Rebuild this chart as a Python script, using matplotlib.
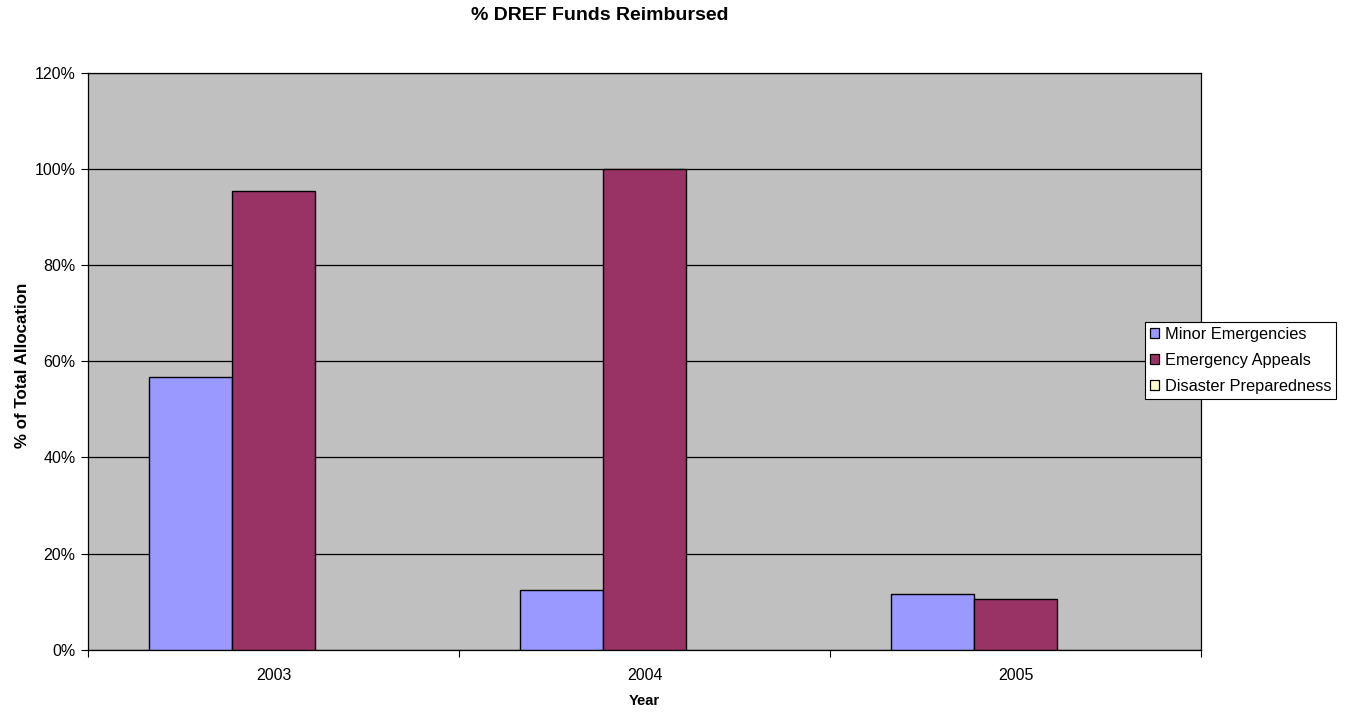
import matplotlib
matplotlib.use("Agg")
import matplotlib.pyplot as plt
import numpy as np
from matplotlib.patches import Patch

plt.rcParams['font.family'] = ['Liberation Sans', 'DejaVu Sans']

years = ["2003", "2004", "2005"]
series_names = ["Minor Emergencies", "Emergency Appeals", "Disaster Preparedness"]
minor = [56.7, 12.4, 11.6]
appeals = [95.4, 100.0, 10.5]
preparedness = [0.0, 0.0, 0.0]
colors = ["#9999FF", "#993366", "#FFFFCC"]
yticks = [0, 20, 40, 60, 80, 100, 120]

fig = plt.figure(figsize=(13.52, 7.14), dpi=100)
ax = fig.add_axes([88/1352, 1-649.7/714, (1201-88)/1352, (649.7-73)/714])
ax.set_facecolor("#C0C0C0")

x = np.arange(len(years))
w = 0.224
for i, (vals, name, c) in enumerate(zip([minor, appeals, preparedness], series_names, colors)):
    lws = [1.0 if v > 0 else 0.0 for v in vals]
    ax.bar(x + (i - 1) * w, vals, width=w, color=c, edgecolor="black", linewidth=lws,
           label=name, zorder=3)

ax.set_xlim(-0.5, len(years) - 0.5)
ax.set_ylim(0, 120)
ax.set_yticks(yticks)
ax.set_yticklabels([f"{v}%" for v in yticks])
ax.yaxis.grid(True, color="black", linewidth=0.9, zorder=1)
ax.set_axisbelow(True)

ax.set_xticks(x)
ax.set_xticklabels(years)
ax.set_xticks(np.arange(len(years) + 1) - 0.5, minor=True)
ax.tick_params(axis="x", which="major", length=0, pad=13, labelsize=11.5)
ax.tick_params(axis="x", which="minor", length=5, width=0.8, direction="out")
ax.tick_params(axis="y", length=5, width=0.8, direction="out", labelsize=11.5, pad=4)

for s in ax.spines.values():
    s.set_color("black")
    s.set_linewidth(0.9)

fig.text(644/1352, 1-701/714, "Year", ha="center", va="center",
         fontsize=10.5, fontweight="bold")
fig.text(22.5/1352, 1-365/714, "% of Total Allocation", ha="center", va="center",
         rotation=90, fontsize=12.2, fontweight="bold")
fig.text(600/1352, 1-16/714, "% DREF Funds Reimbursed", ha="center", va="center",
         fontsize=14, fontweight="bold")

handles = [Patch(facecolor=c, edgecolor="black", linewidth=0.9) for c in colors]
leg = fig.legend(handles, series_names, loc="upper left",
                 bbox_to_anchor=(1144.7/1352, 1-321.7/714),
                 frameon=True, fancybox=False, edgecolor="black", framealpha=1,
                 fontsize=11.8, handlelength=0.55, handleheight=0.55, handletextpad=0.35,
                 borderpad=0.32, labelspacing=0.68, borderaxespad=0)
leg.get_frame().set_linewidth(0.8)

fig.savefig("out.png", dpi=100)
